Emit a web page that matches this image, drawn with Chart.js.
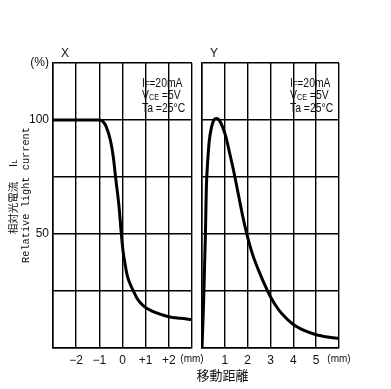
<!DOCTYPE html>
<html>
<head>
<meta charset="utf-8">
<script src="https://cdn.jsdelivr.net/npm/chart.js@4/dist/chart.umd.min.js"></script>
<style>
  body { margin: 0; background: #fff; }
  .wrap { position: relative; width: 391px; height: 389px; overflow: hidden; }
  canvas { position: absolute; top: 0; }
  #chart-x { left: 0; }
  #chart-y { left: 170px; }
</style>
</head>
<body>
<div class="wrap">
  <canvas id="chart-x" width="215" height="389"></canvas>
  <canvas id="chart-y" width="221" height="389"></canvas>
</div>
<script>
// X direction: position (mm) vs relative light current (%)
const posX = [-3, -2, -1, -0.85, -0.7, -0.52, -0.4, -0.3, -0.15, -0.05, 0.03, 0.1, 0.2, 0.3, 0.47, 0.6, 0.78, 1, 1.25, 1.5, 2, 2.5, 3];
const currentX = [100, 100, 100, 99.4, 97, 91, 84, 75, 62, 50, 42, 37.5, 32, 28.8, 25, 22.3, 19.7, 17.7, 16.3, 15.3, 13.7, 13, 12.5];

// Y direction
const posY = [0, 0.07, 0.15, 0.19, 0.25, 0.32, 0.42, 0.52, 0.63, 0.75, 0.9, 1.05, 1.2, 1.4, 1.6, 1.8, 1.95, 2.2, 2.5, 2.85, 3, 3.25, 3.5, 4, 4.5, 5, 5.5, 6];
const currentY = [0, 20, 50, 70, 82, 91, 97, 100, 100.7, 100, 97, 92.5, 86, 77, 67, 57, 50.5, 41.5, 33.5, 25.5, 22.5, 18.3, 15, 10.3, 7.6, 5.8, 4.8, 4.2];

// tick labels (by tick index)
const xTickLabelsX = ['', '\u22122', '\u22121', '0', '+1', '+2', '(mm)'];
const xTickLabelsY = ['', '1', '2', '3', '4', '5', '(mm)'];
const yTickLabels = ['', '', '50', '', '100', '(%)'];

const conditions = [
    [['I', ''], ['F', 'sub'], ['=20mA', '']],
    [['V', ''], ['CE', 'sub'], [' =5V', '']],
    [['Ta =25\u00B0C', '']]
];

const FONT = "'Liberation Sans', 'Noto Sans CJK JP', sans-serif";
const INK = '#111';

function drawParts(ctx, x, y, parts) {
    let cx = 0;
    ctx.save();
    ctx.translate(x, y);
    ctx.scale(0.8, 1);
    parts.forEach(([txt, kind]) => {
        ctx.font = (kind === 'sub' ? '9px ' : '13px ') + FONT;
        ctx.fillText(txt, cx, kind === 'sub' ? 2 : 0);
        cx += ctx.measureText(txt).width;
    });
    ctx.restore();
}

function drawConditions(ctx, x, y0) {
    ctx.textAlign = 'left';
    ctx.textBaseline = 'middle';
    conditions.forEach((parts, i) => drawParts(ctx, x, y0 + i * 12.8, parts));
}

const textPluginX = {
    id: 'textX',
    afterDraw(chart) {
        const ctx = chart.ctx;
        ctx.save();
        ctx.fillStyle = INK;
        ctx.font = '12px ' + FONT;
        ctx.textAlign = 'center';
        ctx.textBaseline = 'middle';
        ctx.fillText('X', 65, 54);
        drawConditions(ctx, 142, 83);

        // rotated y axis titles
        ctx.save();
        ctx.translate(13.5, 208);
        ctx.rotate(-Math.PI / 2);
        ctx.textAlign = 'center';
        ctx.font = "10.5px 'Noto Sans CJK JP', sans-serif";
        ctx.fillText('相対光電流', 0, 0);
        ctx.restore();

        ctx.save();
        ctx.translate(13.5, 167);
        ctx.rotate(-Math.PI / 2);
        ctx.textAlign = 'left';
        ctx.font = '11px ' + FONT;
        ctx.fillText('I', 0, 0);
        ctx.font = '7px ' + FONT;
        ctx.fillText('L', 3.5, 2);
        ctx.restore();

        ctx.save();
        ctx.translate(26, 195);
        ctx.rotate(-Math.PI / 2);
        ctx.textAlign = 'center';
        ctx.font = "10.3px 'Liberation Mono', monospace";
        ctx.fillText('Relative light current', 0, 0);
        ctx.restore();

        ctx.restore();
    }
};

const textPluginY = {
    id: 'textY',
    afterDraw(chart) {
        const ctx = chart.ctx;
        ctx.save();
        ctx.fillStyle = INK;
        ctx.font = '12px ' + FONT;
        ctx.textAlign = 'center';
        ctx.textBaseline = 'middle';
        ctx.fillText('Y', 44, 54);
        drawConditions(ctx, 120, 83);
        ctx.font = "13px 'Noto Sans CJK JP', sans-serif";
        ctx.fillText('移動距離', 26.5, 375);
        ctx.restore();
    }
};

function gridOpts() {
    return { color: '#000', lineWidth: 1.4, drawTicks: false };
}

function makeChart(id, xs, ys, xMin, xMax, xLabels, yWidth, padRight, showY, plugin) {
    const ctx = document.getElementById(id).getContext('2d');
    return new Chart(ctx, {
        type: 'line',
        data: {
            datasets: [{
                data: xs.map((x, i) => ({ x: x, y: ys[i] })),
                borderColor: '#000',
                borderWidth: 3,
                pointRadius: 0,
                fill: false,
                cubicInterpolationMode: 'monotone'
            }]
        },
        options: {
            responsive: false,
            animation: false,
            layout: { padding: { top: 63, right: padRight, left: 0, bottom: 0 } },
            plugins: { legend: { display: false }, tooltip: { enabled: false } },
            scales: {
                x: {
                    type: 'linear',
                    min: xMin,
                    max: xMax,
                    grid: gridOpts(),
                    border: { color: '#000', width: 1.5 },
                    afterFit: s => { s.height = 41; },
                    ticks: {
                        stepSize: 1,
                        padding: 5,
                        color: INK,
                        maxRotation: 0,
                        autoSkip: false,
                        font: c => ({ family: FONT, size: c.index === 6 ? 10 : 12 }),
                        callback: (v, i) => xLabels[i]
                    }
                },
                y: {
                    min: 0,
                    max: 125,
                    grid: gridOpts(),
                    border: { color: '#000', width: 1.5 },
                    afterFit: s => { s.width = yWidth; },
                    ticks: {
                        display: showY,
                        stepSize: 25,
                        padding: 4,
                        color: INK,
                        font: { family: FONT, size: 12 },
                        callback: (v, i) => yTickLabels[i]
                    }
                }
            }
        },
        plugins: [plugin]
    });
}

makeChart('chart-x', posX, currentX, -3, 3, xTickLabelsX, 53, 23, true, textPluginX);
makeChart('chart-y', posY, currentY, 0, 6, xTickLabelsY, 32, 52, false, textPluginY);
</script>
</body>
</html>
